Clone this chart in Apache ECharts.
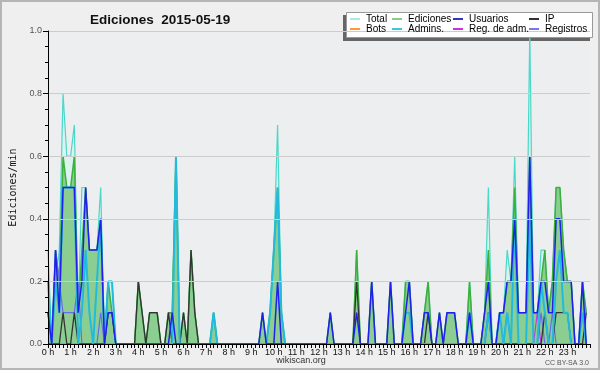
<!DOCTYPE html>
<html><head><meta charset="utf-8">
<script src="https://cdn.jsdelivr.net/npm/echarts@6/dist/echarts.min.js"></script>
<style>html,body{margin:0;padding:0;background:#efefef;}#c{width:600px;height:370px;}</style>
</head><body><div id="c"></div>
<script>
// 10-minute bins, 144 per day (values in edits/min)
const hourLabels = ['0 h','1 h','2 h','3 h','4 h','5 h','6 h','7 h','8 h','9 h','10 h','11 h','12 h','13 h','14 h','15 h','16 h','17 h','18 h','19 h','20 h','21 h','22 h','23 h'];
const yTicks = ['0.0','0.2','0.4','0.6','0.8','1.0'];

const total = [
0.3,0,0.2,0.3,0.8,0.6, 0.6,0.7,0.1,0.5,0.5,0.3, 0.3,0.3,0.5,0,0.2,0.2, 0,0,0,0,0,0,
0.2,0.1,0,0.1,0.1,0.1, 0,0,0.1,0.1,0.6,0, 0.1,0,0.3,0.1,0,0, 0,0,0.1,0,0,0,
0,0,0,0,0,0, 0,0,0,0.1,0,0.1, 0.3,0.7,0.1,0,0,0, 0,0,0,0,0,0,
0,0,0,0.1,0,0, 0,0,0,0,0.3,0, 0,0,0.2,0,0,0, 0,0.2,0,0,0,0.2,
0.2,0,0,0,0.1,0.2, 0,0,0.1,0,0.1,0.1, 0.1,0,0,0,0.2,0, 0,0,0.1,0.5,0,0,
0.1,0.1,0.3,0.2,0.6,0.1, 0.1,0.1,1.0,0.1,0.1,0.3, 0.3,0.1,0.2,0.5,0.5,0.3, 0.2,0.2,0,0,0.2,0.1];

const ediciones = [
0.1,0,0.3,0.2,0.6,0.5, 0.5,0.6,0.1,0.3,0.5,0.3, 0.3,0.3,0.4,0,0.2,0.1, 0,0,0,0,0,0,
0.2,0.1,0,0.1,0.1,0.1, 0,0,0.1,0.1,0.6,0, 0.1,0,0.3,0.1,0,0, 0,0,0.1,0,0,0,
0,0,0,0,0,0, 0,0,0,0.1,0,0.1, 0.3,0.5,0.1,0,0,0, 0,0,0,0,0,0,
0,0,0,0.1,0,0, 0,0,0,0,0.3,0, 0,0,0.2,0,0,0, 0,0.2,0,0,0,0.2,
0.2,0,0,0,0.1,0.2, 0,0,0.1,0,0.1,0.1, 0.1,0,0,0,0.2,0, 0,0,0.1,0.3,0,0,
0.1,0.1,0.2,0.2,0.5,0.1, 0.1,0.1,0.6,0.1,0.1,0.2, 0.3,0.1,0.2,0.5,0.5,0.3, 0.2,0.2,0,0,0.2,0.1];

const usuarios = [
0.1,0,0.3,0.1,0.5,0.5, 0.5,0.5,0.1,0.2,0.5,0.3, 0.3,0.3,0.4,0,0.1,0.1, 0,0,0,0,0,0,
0,0,0,0,0,0, 0,0,0,0.1,0,0, 0,0,0,0,0,0, 0,0,0,0,0,0,
0,0,0,0,0,0, 0,0,0,0.1,0,0, 0,0.2,0,0,0,0, 0,0,0,0,0,0,
0,0,0,0.1,0,0, 0,0,0,0,0.1,0, 0,0,0.2,0,0,0, 0,0.2,0,0,0,0.1,
0.2,0,0,0,0.1,0.1, 0,0,0.1,0,0.1,0.1, 0.1,0,0,0,0.1,0, 0,0,0.1,0.2,0,0,
0.1,0.1,0.2,0.2,0.4,0.1, 0.1,0.1,0.6,0.1,0.1,0.2, 0.2,0.1,0.1,0.4,0.4,0.2, 0.2,0.2,0,0,0.2,0];

const ip = [
0,0,0,0,0.1,0, 0,0.1,0,0,0,0, 0,0,0,0,0.1,0.1, 0,0,0,0,0,0,
0.2,0.1,0,0.1,0.1,0.1, 0,0,0.1,0,0,0, 0.1,0,0.3,0.1,0,0, 0,0,0,0,0,0,
0,0,0,0,0,0, 0,0,0,0,0,0, 0,0,0,0,0,0, 0,0,0,0,0,0,
0,0,0,0,0,0, 0,0,0,0,0.2,0, 0,0,0,0,0,0, 0,0,0,0,0,0,
0,0,0,0,0,0.1, 0,0,0,0,0,0, 0,0,0,0,0,0, 0,0,0,0.1,0,0,
0,0,0,0,0,0, 0,0,0,0,0,0, 0.1,0,0,0.1,0.1,0.1, 0.1,0,0,0,0,0.1];

const admins = [
0.2,0,0.2,0.1,0.5,0.5, 0.5,0.5,0,0.1,0.3,0.1, 0,0.2,0.4,0,0.2,0.2, 0,0,0,0,0,0,
0,0,0,0,0,0, 0,0,0,0,0.6,0, 0,0,0,0,0,0, 0,0,0.1,0,0,0,
0,0,0,0,0,0, 0,0,0,0,0,0.1, 0.3,0.5,0.1,0,0,0, 0,0,0,0,0,0,
0,0,0,0,0,0, 0,0,0,0,0,0, 0,0,0,0,0,0, 0,0,0,0,0,0.1,
0.1,0,0,0,0,0, 0,0,0,0,0,0, 0,0,0,0,0.1,0, 0,0,0,0.1,0,0,
0.1,0,0.1,0,0.4,0, 0,0,0.4,0,0,0.2, 0.1,0,0,0.2,0.3,0.1, 0.1,0,0,0,0.1,0];

const registros = [
0,0,0.3,0.2,0.1,0.1, 0.1,0.1,0.2,0,0,0, 0,0,0.1,0,0,0, 0,0,0,0,0,0,
0,0,0,0,0,0, 0,0,0,0,0,0, 0,0,0,0,0,0, 0,0,0,0,0,0,
0,0,0,0,0,0, 0,0,0,0,0,0, 0,0,0,0,0,0, 0,0,0,0,0,0,
0,0,0,0,0,0, 0,0,0,0,0,0, 0,0,0,0,0,0, 0,0,0,0,0,0,
0,0,0,0,0,0, 0,0,0,0,0,0, 0,0,0,0,0,0, 0,0,0,0,0,0,
0,0,0.1,0,0,0, 0,0,0,0,0,0.1, 0,0,0.1,0,0,0, 0,0,0,0,0,0];

const regAdm = [
0,0,0,0,0,0, 0,0,0,0,0,0, 0,0,0,0,0,0, 0,0,0,0,0,0,
0,0,0,0,0,0, 0,0,0,0,0,0, 0,0,0,0,0,0, 0,0,0,0,0,0,
0,0,0,0,0,0, 0,0,0,0,0,0, 0,0,0,0,0,0, 0,0,0,0,0,0,
0,0,0,0,0,0, 0,0,0,0,0,0, 0,0,0,0,0,0, 0,0,0,0,0,0,
0,0,0,0,0,0, 0,0,0,0,0,0, 0,0,0,0,0,0, 0,0,0,0.1,0,0,
0,0,0,0,0,0, 0,0,0,0,0.1,0, 0,0,0,0,0,0, 0,0,0,0,0,0];

const bots = [
0,0,0,0,0,0, 0,0,0,0,0,0, 0,0,0,0,0,0, 0,0,0,0,0,0,
0,0,0,0,0,0, 0,0,0,0,0,0, 0,0,0,0,0,0, 0,0,0,0,0,0,
0,0,0,0,0,0, 0,0,0,0,0,0, 0,0,0,0,0,0, 0,0,0,0,0,0,
0,0,0,0,0,0, 0,0,0,0,0,0, 0,0,0,0,0,0, 0,0,0,0,0,0,
0,0,0,0,0,0, 0,0,0,0,0,0, 0,0,0,0,0,0, 0,0,0,0,0,0,
0,0,0,0,0,0, 0,0,0,0,0,0, 0,0,0,0,0,0, 0,0,0,0,0,0];

const legendNames = ['Total','Ediciones','Usuarios','IP','Bots','Admins.','Reg. de adm.','Registros'];
const legendColors = ['#aee8e0','#88cc88','#3333cc','#333333','#ff9933','#33ccdd','#cc33dd','#7777ee'];

const F = 'Liberation Sans';
const pairs = a => a.map((v, i) => [i / 6, v]);
const legendPos = [[350,14],[392,14],[453,14],[529,14],[350,24],[392,24],[453,24],[529,24]];

const legends = legendNames.map((n, k) => ({
  data: [{ name: n, itemStyle: { color: legendColors[k] } }],
  left: legendPos[k][0], top: legendPos[k][1], padding: 0,
  icon: 'rect', itemWidth: 10, itemHeight: 2, selectedMode: false, z: 20,
  textStyle: { fontFamily: F, fontSize: 10, lineHeight: 10, color: '#000', padding: [0,0,0,1] }
}));

function ln(name, data, color, width, z, extra) {
  return Object.assign({
    name, type: 'line', data: pairs(data), symbol: 'none', z,
    lineStyle: { color, width }, itemStyle: { color }, emphasis: { disabled: true }
  }, extra || {});
}

const chart = echarts.init(document.getElementById('c'), null, { renderer: 'canvas' });
chart.setOption({
  animation: false,
  backgroundColor: '#efefef',
  title: { text: 'Ediciones  2015-05-19', left: 85, top: 8,
    textStyle: { fontFamily: F, fontWeight: 'bold', fontSize: 13.5, color: '#111' } },
  grid: { left: 46, right: 10, top: 31, bottom: 26, show: true, backgroundColor: '#edeef0', borderWidth: 0 },
  xAxis: { type: 'value', min: 0, max: 24, interval: 1, z: 10,
    axisLine: { lineStyle: { color: '#000', width: 1 } },
    axisTick: { show: true, length: 4, lineStyle: { color: '#000' } },
    minorTick: { show: true, splitNumber: 6, length: 4, lineStyle: { color: '#000' } },
    axisLabel: { formatter: v => (v < 24 ? hourLabels[v] : ''), fontFamily: F, fontSize: 9, color: '#111', margin: 4 },
    splitLine: { show: false } },
  yAxis: { type: 'value', min: 0, max: 1, interval: 0.2, z: 10,
    axisLine: { show: true, lineStyle: { color: '#000' } },
    axisTick: { show: true, length: 5, lineStyle: { color: '#000' } },
    minorTick: { show: true, splitNumber: 4, length: 3, lineStyle: { color: '#000' } },
    axisLabel: { formatter: v => yTicks[Math.round(v * 5)], fontFamily: F, fontSize: 9, color: '#555', margin: 6 },
    splitLine: { show: true, lineStyle: { color: '#cccccc' } },
    name: 'Ediciones/min', nameLocation: 'middle', nameGap: 30, nameRotate: 90,
    nameTextStyle: { fontFamily: 'DejaVu Sans Mono', fontSize: 10, color: '#111' } },
  legend: legends,
  graphic: [
    { type: 'rect', shape: { x: 1, y: 1, width: 598, height: 368 }, style: { fill: 'none', stroke: '#b5b5b5', lineWidth: 2 }, z: 100 },
    { type: 'rect', shape: { x: 343, y: 15, width: 247, height: 26 }, style: { fill: '#666' }, z: 1 },
    { type: 'rect', shape: { x: 346.5, y: 12.5, width: 246, height: 25 }, style: { fill: '#fff', stroke: '#999', lineWidth: 1 }, z: 2 },
    { type: 'text', x: 301, y: 361, style: { text: 'wikiscan.org', font: '9px "Liberation Sans"', fill: '#333', align: 'center', verticalAlign: 'middle' }, z: 5 },
    { type: 'text', x: 589, y: 363, style: { text: 'CC BY-SA 3.0', font: '7px "Liberation Sans"', fill: '#555', align: 'right', verticalAlign: 'middle' }, z: 5 }
  ],
  series: [
    ln('Total', total, '#4ad8c8', 1.2, 1, { areaStyle: { color: '#dbf3ee', opacity: 1 } }),
    ln('Ediciones', ediciones, '#3cb03c', 1.5, 2, { areaStyle: { color: 'rgba(110,190,110,0.72)', opacity: 1 } }),
    ln('Registros', registros, '#6a6af0', 1.2, 3),
    ln('Reg. de adm.', regAdm, '#cc33dd', 1.2, 3),
    ln('Bots', bots, '#ff9933', 1.2, 3),
    ln('IP', ip, '#333333', 1.3, 3),
    ln('Admins.', admins, '#22bbdd', 2, 3),
    ln('Usuarios', usuarios, '#2020ee', 1.5, 3)
  ]
});
</script></body></html>
